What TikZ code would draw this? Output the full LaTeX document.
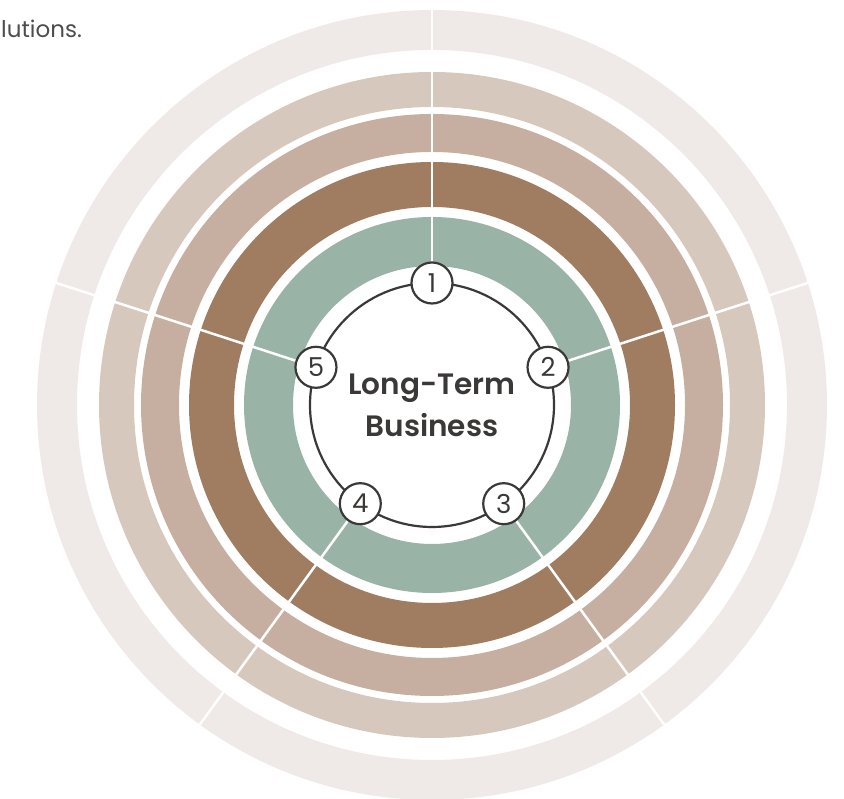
\documentclass[tikz,border=0pt]{standalone}
\usepackage{fontspec}
\setmainfont{Poppins}[BoldFont={Poppins SemiBold}]
\usepackage{tikz}
\usetikzlibrary{positioning}
\definecolor{ringpale}{HTML}{EFEAE7}
\definecolor{ringsand}{HTML}{D6C8BD}
\definecolor{ringtan}{HTML}{C6AFA0}
\definecolor{ringbrown}{HTML}{A07C61}
\definecolor{ringsage}{HTML}{99B3A7}
\definecolor{inkgray}{HTML}{3B3938}
\tikzstyle{ring} = [even odd rule]
\tikzstyle{divider} = [draw=white, line width=2.5pt]
\tikzstyle{num} = [circle, draw=inkgray, line width=2.2pt, fill=white,
    minimum size=41pt, inner sep=0pt, text=inkgray, font=\fontsize{26}{26}\selectfont]
\tikzstyle{hub} = [draw=inkgray, line width=2.2pt]

\begin{document}
\begin{tikzpicture}[x=1pt, y=1pt]
    \useasboundingbox (0,0) rectangle (844,799);
    \coordinate (c) at (432,394);
    % Rings
    \fill[ring, ringpale] (c) circle (395pt) (c) circle (355pt);
    \fill[ring, ringsand] (c) circle (333pt) (c) circle (298pt);
    \fill[ring, ringtan] (c) circle (291pt) (c) circle (253pt);
    \fill[ring, ringbrown] (c) circle (243pt) (c) circle (198pt);
    \fill[ring, ringsage] (c) circle (188pt) (c) circle (139pt);
    % Dividers
    \path[divider] ([shift={(90:130pt)}]c) -- ([shift={(90:400pt)}]c);
    \path[divider] ([shift={(18:130pt)}]c) -- ([shift={(18:400pt)}]c);
    \path[divider] ([shift={(-54:130pt)}]c) -- ([shift={(-54:400pt)}]c);
    \path[divider] ([shift={(-126:130pt)}]c) -- ([shift={(-126:400pt)}]c);
    \path[divider] ([shift={(162:130pt)}]c) -- ([shift={(162:400pt)}]c);
    % Hub
    \path[hub] (c) circle (122pt);
    \node [text=inkgray, align=center, font=\bfseries\fontsize{29.5}{42}\selectfont] (core) at (c) {Long-Term\\Business};
    % Place nodes
    \node [num] (n1) at ([shift={(90:122pt)}]c) {1};
    \node [num] (n2) at ([shift={(18:122pt)}]c) {2};
    \node [num] (n3) at ([shift={(-54:122pt)}]c) {3};
    \node [num] (n4) at ([shift={(-126:122pt)}]c) {4};
    \node [num] (n5) at ([shift={(162:122pt)}]c) {5};
    % Caption
    \node [anchor=base west, inner sep=0pt, text=inkgray!90, font=\fontsize{23}{23}\selectfont] (caption) at (1,761) {lutions.};
\end{tikzpicture}
\end{document}
